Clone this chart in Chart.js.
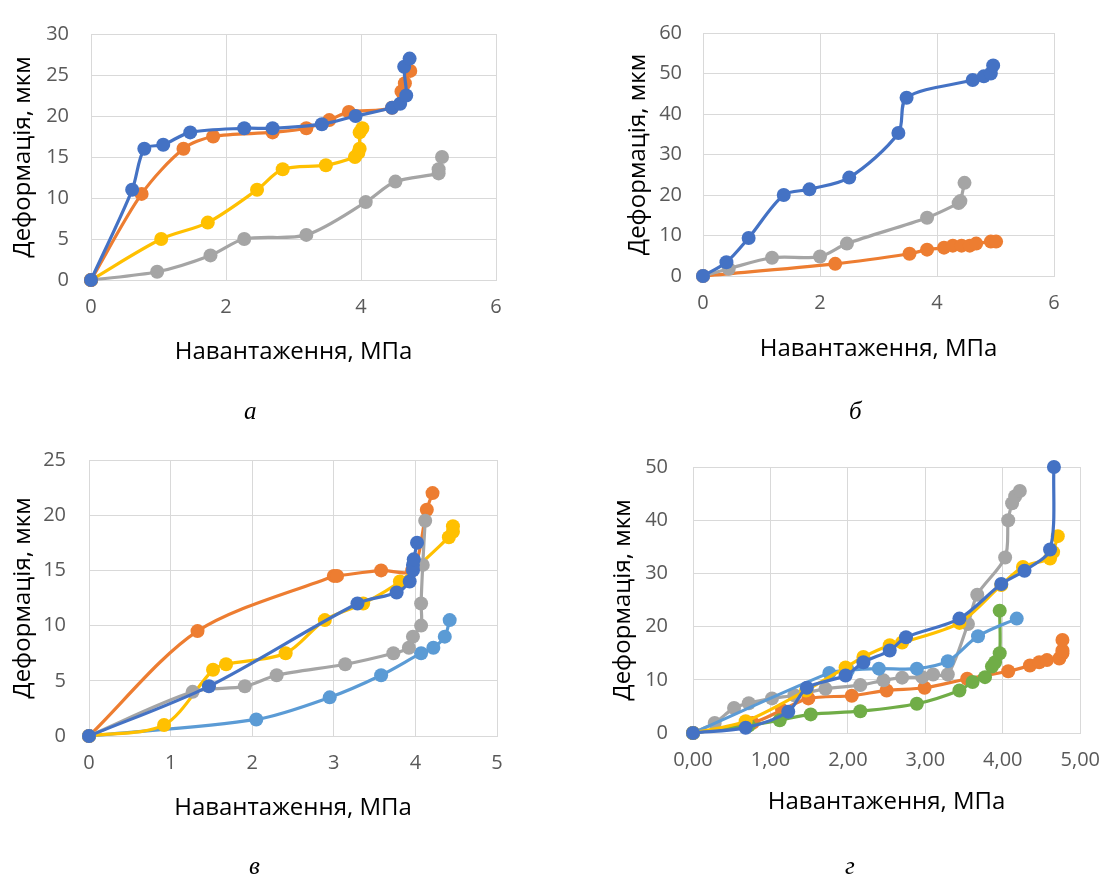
<!DOCTYPE html>
<html>
<head>
<meta charset="utf-8">
<script src="https://cdn.jsdelivr.net/npm/chart.js@4.4.0/dist/chart.umd.min.js"></script>
<style>
  body { margin: 0; background: #fff; }
  #wrap { position: relative; width: 1115px; height: 882px; overflow: hidden; }
  canvas { position: absolute; left: 0; top: 0; }
  .lbl { position: absolute; font-family: "Liberation Serif", serif; font-style: italic; font-size: 25px; color: #000; }
</style>
</head>
<body>
<div id="wrap">
  <canvas id="chA" width="1115" height="882"></canvas>
  <canvas id="chB" width="1115" height="882"></canvas>
  <canvas id="chC" width="1115" height="882"></canvas>
  <canvas id="chD" width="1115" height="882"></canvas>
  <div class="lbl" style="left:244px;top:397px">а</div>
  <div class="lbl" style="left:849px;top:397px">б</div>
  <div class="lbl" style="left:249px;top:852px">в</div>
  <div class="lbl" style="left:845px;top:852px">г</div>
</div>
<script>
'use strict';

var BLUE = '#4472C4', ORANGE = '#ED7D31', GRAY = '#A5A5A5',
  GOLD = '#FFC000', LBLUE = '#5B9BD5', GREEN = '#70AD47';

var yTitle = 'Деформація, мкм',
  xTitle = 'Навантаження, МПа';

// chart a
var aBlueX = [0, 0.61, 0.79, 1.07, 1.47, 2.27, 2.69, 3.42, 3.92, 4.46, 4.58, 4.67, 4.64, 4.72];
var aBlueY = [0, 11, 16, 16.5, 18, 18.5, 18.5, 19, 20, 21, 21.5, 22.5, 26, 27];
var aOrangeX = [0, 0.75, 1.37, 1.81, 2.69, 3.19, 3.53, 3.82, 4.46, 4.6, 4.65, 4.73];
var aOrangeY = [0, 10.5, 16, 17.5, 18, 18.5, 19.5, 20.5, 21, 23, 24, 25.5];
var aGoldX = [0, 1.04, 1.73, 2.46, 2.84, 3.48, 3.91, 3.96, 3.98, 3.98, 4.02];
var aGoldY = [0, 5, 7, 11, 13.5, 14, 15, 15.5, 16, 18, 18.5];
var aGrayX = [0, 0.98, 1.77, 2.27, 3.19, 4.07, 4.51, 5.15, 5.15, 5.2];
var aGrayY = [0, 1, 3, 5, 5.5, 9.5, 12, 13, 13.5, 15];

// chart b
var bBlueX = [0, 0.4, 0.78, 1.38, 1.82, 2.5, 3.34, 3.48, 4.61, 4.8, 4.92, 4.96];
var bBlueY = [0, 3.4, 9.4, 20, 21.4, 24.3, 35.3, 44, 48.4, 49.3, 50, 52];
var bGrayX = [0, 0.44, 1.18, 2.0, 2.46, 3.83, 4.37, 4.4, 4.47];
var bGrayY = [0, 1.8, 4.5, 4.8, 8, 14.4, 18, 18.5, 23];
var bOrangeX = [0, 2.26, 3.53, 3.83, 4.12, 4.27, 4.42, 4.56, 4.67, 4.92, 5.01];
var bOrangeY = [0, 3, 5.5, 6.5, 7, 7.5, 7.5, 7.5, 8, 8.5, 8.5];

// chart c
var cBlueX = [0, 1.47, 3.29, 3.77, 3.93, 3.97, 3.97, 3.98, 4.02];
var cBlueY = [0, 4.5, 12, 13, 14, 15, 15.5, 16, 17.5];
var cGrayX = [0, 1.27, 1.91, 2.3, 3.14, 3.73, 3.92, 3.97, 4.07, 4.07, 4.09, 4.12];
var cGrayY = [0, 4, 4.5, 5.5, 6.5, 7.5, 8, 9, 10, 12, 15.5, 19.5];
var cGoldX = [0, 0.92, 1.52, 1.68, 2.41, 2.89, 3.36, 3.81, 4.41, 4.46, 4.46];
var cGoldY = [0, 1, 6, 6.5, 7.5, 10.5, 12, 14, 18, 18.5, 19];
var cOrangeX = [0, 1.33, 3.0, 3.04, 3.58, 3.96, 4.14, 4.21];
var cOrangeY = [0, 9.5, 14.5, 14.5, 15, 15, 20.5, 22];
var cLblueX = [0, 2.05, 2.95, 3.58, 4.07, 4.22, 4.36, 4.42];
var cLblueY = [0, 1.5, 3.5, 5.5, 7.5, 8, 9, 10.5];

// chart d
var dBlueX = [0, 0.68, 1.23, 1.47, 1.97, 2.2, 2.54, 2.75, 3.44, 3.98, 4.28, 4.61, 4.66];
var dBlueY = [0, 1, 4, 8.5, 10.8, 13.3, 15.5, 18, 21.5, 28, 30.5, 34.5, 50];
var dGoldX = [0, 0.68, 1.46, 1.97, 2.2, 2.54, 2.7, 3.44, 3.98, 4.26, 4.61, 4.65, 4.71];
var dGoldY = [0, 2.2, 8, 12.3, 14.3, 16.5, 17, 20.7, 27.8, 31.2, 32.8, 34, 37];
var dGrayX = [0, 0.28, 0.53, 0.72, 1.02, 1.31, 1.71, 2.16, 2.46, 2.7, 2.96, 3.1, 3.29, 3.55, 3.67, 4.03, 4.07, 4.12, 4.16, 4.22];
var dGrayY = [0, 1.9, 4.7, 5.6, 6.5, 7.1, 8.3, 9, 9.9, 10.4, 10.5, 11, 11, 20.5, 26, 33, 40, 43.2, 44.5, 45.5];
var dLblueX = [0, 1.76, 2.0, 2.4, 2.89, 3.29, 3.68, 4.18];
var dLblueY = [0, 11.3, 11.8, 12.1, 12.1, 13.5, 18.2, 21.5];
var dOrangeX = [0, 0.77, 1.15, 1.49, 2.05, 2.5, 2.99, 3.54, 4.07, 4.35, 4.47, 4.57, 4.73, 4.77, 4.77, 4.77];
var dOrangeY = [0, 1.9, 4.3, 6.5, 7, 8, 8.5, 10.2, 11.6, 12.7, 13.3, 13.7, 14, 15, 15.5, 17.5];
var dGreenX = [0, 0.72, 1.12, 1.52, 2.16, 2.89, 3.44, 3.61, 3.77, 3.86, 3.9, 3.96, 3.96];
var dGreenY = [0, 1.4, 2.4, 3.5, 4.1, 5.5, 8, 9.6, 10.5, 12.5, 13.3, 15, 23];

function toPoints(xs, ys) {
  return xs.map(function (x, i) {
    return {x: x, y: ys[i]};
  });
}

function makeSet(xs, ys, color) {
  return {
    data: toPoints(xs, ys),
    borderColor: color,
    backgroundColor: color,
    borderWidth: 3.2,
    pointRadius: 7,
    pointHoverRadius: 7,
    pointBorderWidth: 0,
    showLine: true,
    tension: 0.3,
    clip: false // markers on the axes stay whole, like in Excel
  };
}

var FONT = '"Open Sans", sans-serif',
  TITLE_SIZE = 24,
  TICK_SIZE = 20;

// box: plot area in page coords; yTitleX / xTitleY: centre of axis titles
function drawChart(id, datasets, box, xAxis, yAxis, xFmt) {
  var half = TITLE_SIZE * 1.2 / 2;
  new Chart(document.getElementById(id), {
    type: 'scatter',
    data: {datasets: datasets},
    options: {
      responsive: false,
      animation: false,
      events: [],
      layout: {
        padding: {
          left: box.yTitleX - half,
          top: box.t,
          right: 1115 - box.r,
          bottom: 882 - (box.xTitleY + half)
        }
      },
      plugins: {legend: {display: false}, tooltip: {enabled: false}},
      scales: {
        x: {
          type: 'linear',
          min: xAxis.min, max: xAxis.max,
          afterFit: function (s) { s.height = box.xTitleY + half - box.b; },
          afterBuildTicks: function (s) {
            s.ticks = [];
            for (var v = xAxis.min; v <= xAxis.max + 1e-9; v += xAxis.step) s.ticks.push({value: v});
          },
          grid: {color: '#D9D9D9', lineWidth: 1, drawTicks: false},
          border: {color: '#D9D9D9'},
          ticks: {
            padding: 15,
            color: '#595959',
            font: {family: FONT, size: TICK_SIZE},
            callback: xFmt || function (v) { return v; }
          },
          title: {display: true, text: xTitle, color: '#000', padding: 0, font: {family: FONT, size: TITLE_SIZE}}
        },
        y: {
          type: 'linear',
          min: yAxis.min, max: yAxis.max,
          afterFit: function (s) { s.width = box.l - (box.yTitleX - half); },
          afterBuildTicks: function (s) {
            s.ticks = [];
            for (var v = yAxis.min; v <= yAxis.max + 1e-9; v += yAxis.step) s.ticks.push({value: v});
          },
          grid: {color: '#D9D9D9', lineWidth: 1, drawTicks: false},
          border: {color: '#D9D9D9'},
          ticks: {padding: box.tickGap, color: '#595959', font: {family: FONT, size: TICK_SIZE}},
          title: {display: true, text: yTitle, color: '#000', padding: 0, font: {family: FONT, size: TITLE_SIZE}}
        }
      }
    }
  });
}

drawChart('chA', [
  makeSet(aBlueX, aBlueY, BLUE),
  makeSet(aOrangeX, aOrangeY, ORANGE),
  makeSet(aGoldX, aGoldY, GOLD),
  makeSet(aGrayX, aGrayY, GRAY)
], {l: 91, t: 21, r: 496, b: 280, yTitleX: 23, xTitleY: 352, tickGap: 22},
  {min: 0, max: 6, step: 2}, {min: 0, max: 30, step: 5});

drawChart('chB', [
  makeSet(bBlueX, bBlueY, BLUE),
  makeSet(bGrayX, bGrayY, GRAY),
  makeSet(bOrangeX, bOrangeY, ORANGE)
], {l: 703, t: 24, r: 1054, b: 276, yTitleX: 638, xTitleY: 349, tickGap: 21},
  {min: 0, max: 6, step: 2}, {min: 0, max: 60, step: 10});

drawChart('chC', [
  makeSet(cBlueX, cBlueY, BLUE),
  makeSet(cGrayX, cGrayY, GRAY),
  makeSet(cGoldX, cGoldY, GOLD),
  makeSet(cOrangeX, cOrangeY, ORANGE),
  makeSet(cLblueX, cLblueY, LBLUE)
], {l: 89, t: 460, r: 497, b: 736, yTitleX: 23, xTitleY: 808, tickGap: 23},
  {min: 0, max: 5, step: 1}, {min: 0, max: 25, step: 5});

drawChart('chD', [
  makeSet(dBlueX, dBlueY, BLUE),
  makeSet(dGoldX, dGoldY, GOLD),
  makeSet(dLblueX, dLblueY, LBLUE),
  makeSet(dGrayX, dGrayY, GRAY),
  makeSet(dGreenX, dGreenY, GREEN),
  makeSet(dOrangeX, dOrangeY, ORANGE)
], {l: 693, t: 467, r: 1088, b: 733, yTitleX: 623, xTitleY: 802, tickGap: 25},
  {min: 0, max: 5, step: 1}, {min: 0, max: 50, step: 10},
  function (v) { return v.toFixed(2).replace('.', ','); });
</script>
</body>
</html>
